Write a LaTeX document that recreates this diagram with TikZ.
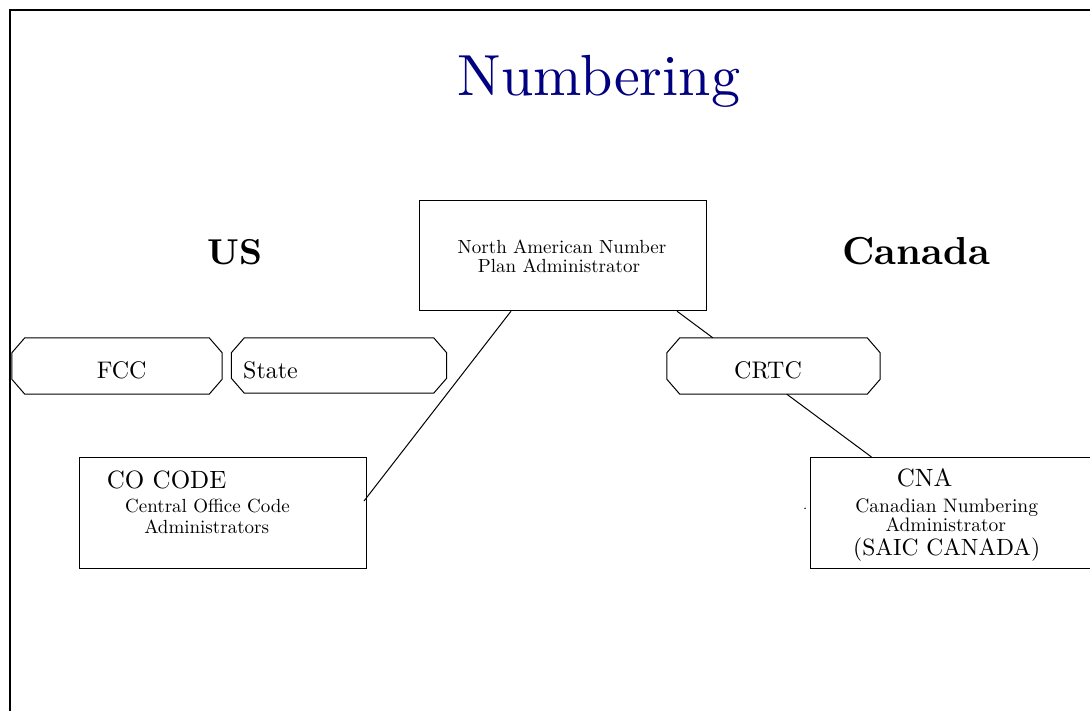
\documentclass[tikz,border=0pt]{standalone}
\usepackage{fontspec}
\setmainfont{lmroman10}[Extension=.otf, UprightFont=*-regular, BoldFont=*-bold, ItalicFont=*-italic, BoldItalicFont=*-bolditalic]
\definecolor{titlenavy}{RGB}{0,0,128}
\newcommand\octbox[1]{\draw[line width=1pt] ([xshift=13pt]#1.north west) -- ([xshift=-13pt]#1.north east) -- ([yshift=-15pt]#1.north east) -- ([yshift=15pt]#1.south east) -- ([xshift=-13pt]#1.south east) -- ([xshift=13pt]#1.south west) -- ([yshift=15pt]#1.south west) -- ([yshift=-15pt]#1.north west) -- cycle;}
\tikzset{
  plainbox/.style={draw, line width=1pt, inner sep=0pt},
  octnode/.style={inner sep=0pt, minimum height=56pt},
  lbl/.style={anchor=base, inner sep=0pt},
  lblw/.style={anchor=base west, inner sep=0pt},
  link/.style={line width=1pt},
}
\begin{document}
\begin{tikzpicture}[x=1pt,y=-1pt]
\useasboundingbox (0,0) rectangle (1090,710);
\clip (0,0) rectangle (1090,710);
% frame
\draw[line width=2pt] (10,10) rectangle (1100,720);
% title
\node[lbl, text=titlenavy, font=\fontsize{58}{60}\selectfont] (title) at (599,95) {Numbering};
\node[lbl, font=\bfseries\fontsize{36}{40}\selectfont] (us) at (235,264) {US};
\node[lbl, font=\bfseries\fontsize{39}{42}\selectfont] (canada) at (916,264) {Canada};
% NANPA
\node[plainbox, minimum width=287pt, minimum height=110pt] (nanpa) at (562.5,255.7) {};
\node[lbl, font=\fontsize{19}{20}\selectfont] (nanpa1) at (562,253) {North American Number};
\node[lbl, font=\fontsize{19}{20}\selectfont] (nanpa2) at (559,272) {Plan Administrator};
% octagons
\node[octnode, minimum width=210pt] (fcc) at (117,366) {};
\octbox{fcc}
\node[lbl, font=\fontsize{24}{26}\selectfont] (fcct) at (121.7,378) {FCC};
\node[octnode, minimum width=215pt, minimum height=55pt] (state) at (339,365.5) {};
\octbox{state}
\node[lblw, font=\fontsize{24}{26}\selectfont] (statet) at (243,378) {State};
\node[octnode, minimum width=213pt] (crtc) at (773.5,366) {};
\octbox{crtc}
\node[lbl, font=\fontsize{24}{26}\selectfont] (crtct) at (768,378) {CRTC};
% CO CODE
\node[plainbox, minimum width=286.5pt, minimum height=110.6pt] (cocode) at (222.75,513) {};
\node[lblw, font=\fontsize{25}{27}\selectfont] (cocodet) at (106.7,488) {CO CODE};
\node[lbl, font=\fontsize{19}{20}\selectfont] (coc1) at (207.5,512.7) {Central Office Code};
\node[lbl, font=\fontsize{19}{20}\selectfont] (coc2) at (206.7,533) {Administrators};
% CNA
\node[plainbox, minimum width=285pt, minimum height=111pt] (cna) at (952.5,513) {};
\node[lblw, font=\fontsize{25}{27}\selectfont] (cnat) at (896.7,486.7) {CNA};
\node[lbl, font=\fontsize{19.5}{21}\selectfont] (cna1) at (946.7,512.7) {Canadian Numbering};
\node[lbl, font=\fontsize{19.5}{21}\selectfont] (cna2) at (945.8,531.7) {Administrator};
\node[lbl, font=\fontsize{23.5}{25}\selectfont] (cna3) at (946.7,555) {(SAIC CANADA)};
\fill (805,508.3) circle (0.8);
% connectors
\draw[link] ([xshift=92.5pt]nanpa.south west) -- ([xshift=-2.5pt,yshift=12pt]cocode.east);
\draw[link] ([xshift=-29.5pt]nanpa.south east) -- ([xshift=46pt]crtc.north west);
\draw[link] ([xshift=120pt]crtc.south west) -- ([xshift=62pt]cna.north west);
\end{tikzpicture}
\end{document}
